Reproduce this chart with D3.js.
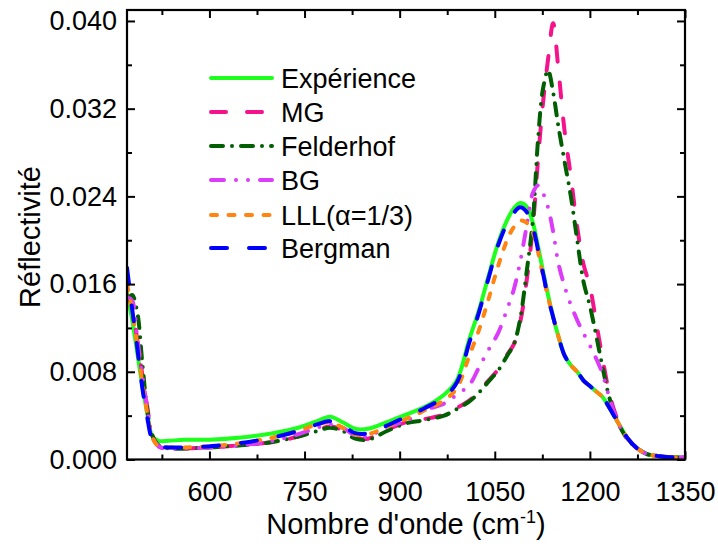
<!DOCTYPE html>
<html><head><meta charset="utf-8">
<script src="https://cdn.jsdelivr.net/npm/d3@7"></script>
<style>
html,body{margin:0;padding:0;background:#fff;}
svg text{font-family:"Liberation Sans",Arial,sans-serif;fill:#000;}
</style></head>
<body><svg id="c" width="718" height="548"></svg>
<script>
const wavenumber = [470,478,486,494,502,510,520,535,560,600,650,700,740,770,790,810,830,850,880,910,940,970,990,1010,1025,1040,1055,1070,1080,1090,1100,1110,1118,1126,1134,1142,1150,1160,1170,1180,1190,1200,1210,1220,1230,1240,1250,1260,1275,1290,1310,1330,1350];

const experience = [0.0152,0.0128,0.0098,0.0068,0.0042,0.0021,0.0017,0.0017,
0.0018,0.0018,0.0020,0.0024,0.0029,0.0035,0.0039,0.0034,0.0028,0.0028,
0.0034,0.0041,0.0048,0.0059,0.0072,0.0110,0.0136,0.0167,0.0197,0.0219,
0.0229,0.0234,0.0231,0.0216,0.0195,0.0172,0.0150,0.0130,0.0113,0.0095,
0.0086,0.0080,0.0072,0.0067,0.0062,0.0057,0.0048,0.0038,0.0028,0.0019,
0.0010,0.0005,0.0003,0.0002,0.0002];

const mg = [0.0150,0.0140,0.0110,0.0078,0.0048,0.0022,0.0012,0.0010,
0.0010,0.0011,0.0013,0.0016,0.0021,0.0027,0.0030,0.0027,0.0020,0.0019,
0.0027,0.0034,0.0037,0.0041,0.0047,0.0054,0.0062,0.0072,0.0082,0.0096,
0.0105,0.0125,0.0162,0.0212,0.0272,0.0325,0.0365,0.0398,0.0358,0.0300,
0.0258,0.0212,0.0178,0.0158,0.0125,0.0092,0.0062,0.0042,0.0028,0.0019,
0.0010,0.0005,0.0003,0.0002,0.0002];

const felderhof = [0.0145,0.0150,0.0135,0.0089,0.0045,0.0022,0.0013,0.0010,
0.0010,0.0011,0.0013,0.0016,0.0021,0.0026,0.0029,0.0026,0.0019,0.0018,
0.0026,0.0033,0.0036,0.0040,0.0046,0.0053,0.0061,0.0071,0.0081,0.0095,
0.0105,0.0128,0.0170,0.0218,0.0290,0.0338,0.0355,0.0335,0.0305,0.0272,
0.0240,0.0200,0.0162,0.0140,0.0113,0.0084,0.0058,0.0040,0.0027,0.0018,
0.0010,0.0005,0.0003,0.0002,0.0002];

const bg = [0.0148,0.0145,0.0112,0.0078,0.0046,0.0021,0.0012,0.0010,
0.0010,0.0011,0.0013,0.0017,0.0023,0.0029,0.0032,0.0029,0.0022,0.0021,
0.0030,0.0035,0.0045,0.0051,0.0059,0.0068,0.0084,0.0100,0.0115,0.0138,
0.0155,0.0180,0.0212,0.0243,0.0250,0.0243,0.0230,0.0208,0.0180,0.0158,
0.0141,0.0127,0.0115,0.0104,0.0092,0.0078,0.0058,0.0040,0.0027,0.0018,
0.0010,0.0005,0.0003,0.0002,0.0002];

const lll = [0.0160,0.0136,0.0105,0.0071,0.0042,0.0020,0.0012,0.0011,
0.0011,0.0012,0.0015,0.0020,0.0026,0.0032,0.0034,0.0029,0.0023,0.0023,
0.0030,0.0037,0.0045,0.0054,0.0065,0.0095,0.0118,0.0146,0.0176,0.0201,
0.0212,0.0218,0.0216,0.0207,0.0190,0.0168,0.0148,0.0130,0.0113,0.0095,
0.0086,0.0080,0.0072,0.0067,0.0062,0.0057,0.0048,0.0038,0.0028,0.0019,
0.0010,0.0005,0.0003,0.0002,0.0002];

const bergman = [0.0175,0.0138,0.0103,0.0066,0.0038,0.0018,0.0012,0.0011,
0.0011,0.0012,0.0015,0.0020,0.0026,0.0032,0.0035,0.0031,0.0024,0.0024,
0.0031,0.0039,0.0047,0.0057,0.0070,0.0107,0.0134,0.0165,0.0195,0.0216,
0.0225,0.0230,0.0226,0.0212,0.0192,0.0170,0.0148,0.0130,0.0113,0.0095,
0.0086,0.0080,0.0072,0.0067,0.0062,0.0057,0.0048,0.0038,0.0028,0.0019,
0.0010,0.0005,0.0003,0.0002,0.0002];

const seriesNames = ["Expérience","MG","Felderhof","BG","LLL(α=1/3)","Bergman"];
const seriesValues = [experience, mg, felderhof, bg, lll, bergman];
const seriesColors = ["#1eff1e","#f5138c","#005f00","#dc3cfa","#ff8410","#0000ff"];
const seriesDash = [null,"15,21","12,9,0,9","13,12,0,12,0,12","6,11.5","16,22"];

const xTicks = [600,750,900,1050,1200,1350];
const xMinor = [525,675,825,975,1125,1275];
const yTicks = [0,0.008,0.016,0.024,0.032,0.040];
const yMinor = [0.004,0.012,0.020,0.028,0.036];

const L=127,R=685,T=10,B=459.5;
const svg = d3.select("#c");
const x = d3.scaleLinear().domain([470,1350]).range([L,R]);
const y = d3.scaleLinear().domain([0,0.041]).range([B,T]);

svg.append("defs").append("clipPath").attr("id","clip")
  .append("rect").attr("x",L).attr("y",T).attr("width",R-L).attr("height",B-T);

const line = d3.line().x(d=>x(d[0])).y(d=>y(d[1])).curve(d3.curveCatmullRom.alpha(0.5));
const g = svg.append("g").attr("clip-path","url(#clip)");
seriesValues.forEach((vals,i)=>{
  g.append("path").datum(wavenumber.map((w,j)=>[w,vals[j]]))
   .attr("d",line).attr("fill","none")
   .attr("stroke",seriesColors[i]).attr("stroke-width",4)
   .attr("stroke-linecap","round")
   .attr("stroke-linejoin","round")
   .attr("stroke-dasharray",seriesDash[i]);
});

// axes
const fmtY = d3.format(".3f");
function axisSet(axisGen, tr){
  const a = svg.append("g").attr("transform",tr).call(axisGen);
  a.select(".domain").remove();
  a.selectAll("line").attr("stroke","#000").attr("stroke-width",2);
  return a;
}
const ab = axisSet(d3.axisBottom(x).tickValues(xTicks).tickSize(-8).tickPadding(22).tickFormat(d3.format("d")), `translate(0,${B})`);
ab.selectAll("text").attr("font-size","27px").attr("dy","0.71em").attr("y",22);
axisSet(d3.axisBottom(x).tickValues(xMinor).tickSize(-5).tickFormat(""), `translate(0,${B})`);
axisSet(d3.axisTop(x).tickValues(xTicks).tickSize(-8).tickFormat(""), `translate(0,${T})`);
axisSet(d3.axisTop(x).tickValues(xMinor).tickSize(-5).tickFormat(""), `translate(0,${T})`);
const al = axisSet(d3.axisLeft(y).tickValues(yTicks).tickSize(-8).tickPadding(10).tickFormat(fmtY), `translate(${L},0)`);
al.selectAll("text").attr("font-size","27px").attr("x",-10);
axisSet(d3.axisLeft(y).tickValues(yMinor).tickSize(-5).tickFormat(""), `translate(${L},0)`);
axisSet(d3.axisRight(y).tickValues(yTicks).tickSize(-8).tickFormat(""), `translate(${R},0)`);
axisSet(d3.axisRight(y).tickValues(yMinor).tickSize(-5).tickFormat(""), `translate(${R},0)`);

svg.append("rect").attr("x",L).attr("y",T).attr("width",R-L).attr("height",B-T)
  .attr("fill","none").attr("stroke","#000").attr("stroke-width",2.2);

const xt = svg.append("text").attr("x",(L+R)/2).attr("y",534).attr("text-anchor","middle").attr("font-size","29px");
xt.append("tspan").text("Nombre d'onde (cm");
xt.append("tspan").attr("font-size","18px").attr("dy","-11").text("-1");
xt.append("tspan").attr("dy","11").text(")");
svg.append("text").attr("transform","translate(40,237) rotate(-90)").attr("text-anchor","middle")
  .attr("font-size","29px").text("Réflectivité");

const legY = [78,112,146,180,215,248];
seriesNames.forEach((n,i)=>{
  svg.append("line").attr("x1",211).attr("x2",272).attr("y1",legY[i]).attr("y2",legY[i])
    .attr("stroke",seriesColors[i]).attr("stroke-width",4).attr("stroke-linecap","round")
    .attr("stroke-dasharray",seriesDash[i]);
  svg.append("text").attr("x",281).attr("y",legY[i]+9.5).attr("font-size","27px").text(n);
});
</script></body></html>
